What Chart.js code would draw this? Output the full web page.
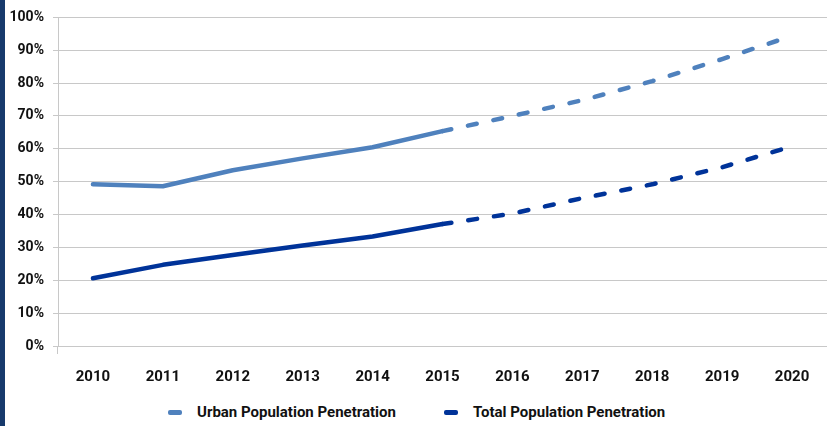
<!DOCTYPE html>
<html>
<head>
<meta charset="utf-8">
<script src="https://cdn.jsdelivr.net/npm/chart.js@4.4.1/dist/chart.umd.min.js"></script>
<style>
  html, body { margin: 0; padding: 0; background: #fff; }
  #wrap { position: relative; width: 827px; height: 426px; overflow: hidden; }
  #edge { position: absolute; left: 0; top: 0; width: 5px; height: 426px; background: #173a6c; }
  #box { position: absolute; left: 0; top: 0; width: 827px; height: 392px; }
  #legend { position: absolute; top: 403px; left: 168px; display: flex; align-items: center;
            font: bold 15px Roboto, sans-serif; color: #111; }
  .item { display: flex; align-items: center; }
  .swatch { width: 14px; height: 5px; border-radius: 2px; margin-right: 15px; }
</style>
</head>
<body>
<div id="wrap">
  <div id="box"><canvas id="penetration"></canvas></div>
  <div id="edge"></div>
  <div id="legend"></div>
</div>
<script>
const years = ["2010","2011","2012","2013","2014","2015","2016","2017","2018","2019","2020"]
const urban = [49.2, 48.6, 53.5, 57.1, 60.5, 65.4, 70.0, 74.8, 80.6, 87.3, 94.4]
const total = [20.6, 24.7, 27.7, 30.6, 33.3, 37.1, 40.3, 45.0, 49.2, 54.4, 60.8]
const names = ["Urban Population Penetration", "Total Population Penetration"]
const colors = ["#4f81bd", "#003399"]
const yTicks = [0,10,20,30,40,50,60,70,80,90,100]

const labelFont = "Roboto"

// from 2015 on the values are projections, drawn dashed
const lastActual = 5

function dashAfter(ctx){
    return ctx.p0DataIndex >= lastActual ? [9, 17] : undefined
}

function series(label, data, color){
    return {
        label: label,
        data: data,
        borderColor: color,
        backgroundColor: color,
        borderWidth: 4.5,
        borderCapStyle: "round",
        borderJoinStyle: "round",
        pointRadius: 0,
        tension: 0,
        segment: { borderDash: dashAfter }
    }
}

const ctx = document.getElementById("penetration").getContext("2d")
const chart = new Chart(ctx, {
    type: "line",
    data: {
        labels: years,
        datasets: [series(names[0], urban, colors[0]), series(names[1], total, colors[1])]
    },
    options: {
        responsive: true,
        maintainAspectRatio: false,
        animation: false,
        layout: { padding: { top: 16, right: 0, left: 0, bottom: 0 } },
        plugins: { legend: { display: false }, tooltip: { enabled: false } },
        scales: {
            x: {
                offset: true,
                afterFit: s => { s.height = 46 },
                grid: {
                    offset: true,
                    drawOnChartArea: false,
                    tickLength: 8,
                    color: c => c.index === 0 ? "#c8c8c8" : "rgba(0,0,0,0)"
                },
                border: { display: false },
                ticks: { color: "#111", padding: 14, font: { family: labelFont, weight: "bold", size: 15 } }
            },
            y: {
                min: 0,
                max: 100,
                afterFit: s => { s.width = 58 },
                afterBuildTicks: s => { s.ticks = yTicks.map(v => ({ value: v })) },
                grid: { color: "#c8c8c8", lineWidth: 1, tickLength: 5 },
                border: { display: true, color: "#c8c8c8" },
                ticks: {
                    color: "#111",
                    padding: 9,
                    font: { family: labelFont, weight: "bold", size: 14 },
                    callback: v => v + "%"
                }
            }
        }
    }
})

// legend row under the chart
const legend = document.getElementById("legend")
names.forEach((n, i) => {
    const item = document.createElement("div")
    item.className = "item"
    if(i > 0){ item.style.marginLeft = "48px" }
    const sw = document.createElement("span")
    sw.className = "swatch"
    sw.style.background = colors[i]
    const txt = document.createElement("span")
    txt.textContent = n
    item.appendChild(sw)
    item.appendChild(txt)
    legend.appendChild(item)
})
</script>
</body>
</html>
